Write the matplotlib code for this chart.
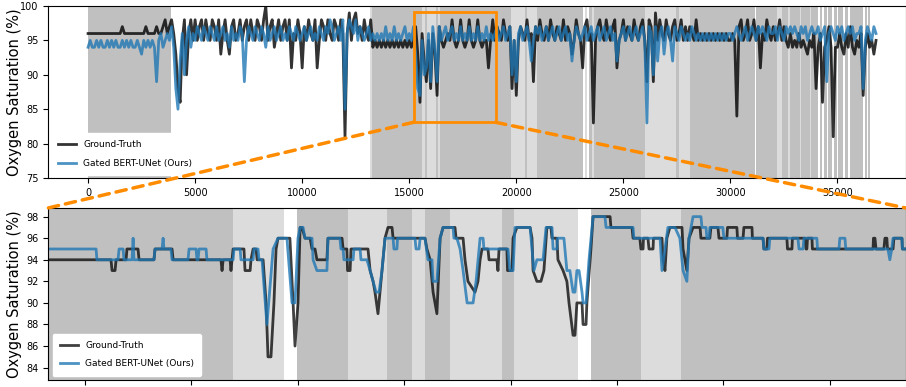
import matplotlib.pyplot as plt
from matplotlib.patches import Rectangle, ConnectionPatch
import numpy as np

# ---- full recording, one reading every 100 samples ----
step = 100
gt_full = [
    96, 96, 96, 96, 96, 96, 96, 96, 96, 96,
    96, 96, 96, 96, 96, 96, 97, 96, 96, 96,
    96, 96, 96, 96, 96, 96, 96, 97, 96, 96,
    96, 96, 97, 96, 96, 97, 98, 96, 97, 98,
    96, 93, 88, 86, 95, 98, 90, 96, 98, 95,
    98, 95, 97, 98, 95, 98, 96, 95, 98, 97,
    95, 98, 93, 96, 98, 95, 93, 97, 98, 95,
    96, 98, 95, 97, 98, 95, 98, 96, 95, 98,
    97, 95, 98, 100, 95, 97, 98, 94, 96, 98,
    95, 97, 98, 95, 98, 91, 96, 95, 98, 96,
    91, 97, 95, 98, 96, 95, 98, 91, 95, 98,
    97, 95, 98, 96, 95, 98, 97, 95, 98, 96,
    81, 96, 99, 95, 98, 99, 96, 97, 95, 98,
    96, 95, 98, 94, 95, 94, 95, 94, 95, 94,
    95, 94, 95, 94, 95, 94, 95, 94, 95, 94,
    95, 94, 95, 97, 93, 86, 96, 92, 89, 95,
    88, 96, 93, 87, 97, 95, 94, 95, 96, 95,
    98, 95, 94, 95, 98, 95, 94, 95, 98, 95,
    94, 95, 98, 95, 94, 95, 95, 91, 95, 98,
    95, 97, 96, 95, 98, 96, 95, 97, 88, 95,
    87, 95, 97, 96, 95, 98, 95, 96, 89, 97,
    95, 98, 96, 95, 97, 95, 98, 96, 95, 97,
    96, 95, 98, 95, 97, 96, 93, 95, 98, 96,
    95, 91, 97, 98, 95, 96, 83, 95, 97, 98,
    96, 95, 98, 96, 95, 97, 98, 91, 95, 96,
    98, 95, 97, 96, 95, 98, 96, 95, 97, 98,
    95, 89, 98, 97, 89, 99, 95, 98, 96, 95,
    98, 96, 95, 97, 98, 95, 96, 98, 95, 97,
    95, 97, 96, 95, 98, 95, 96, 95, 96, 95,
    96, 95, 96, 95, 96, 95, 96, 95, 96, 95,
    95, 96, 95, 84, 97, 98, 95, 96, 98, 95,
    96, 98, 95, 97, 91, 96, 95, 98, 96, 95,
    97, 95, 96, 98, 95, 97, 95, 94, 96, 94,
    95, 94, 96, 94, 95, 94, 93, 95, 94, 96,
    88, 94, 96, 86, 94, 95, 97, 94, 81, 94,
    94, 96, 94, 93, 96, 94, 97, 94, 93, 95,
    94, 96, 87, 94, 96, 94, 95, 93, 95,
]
pred_full = [
    94, 95, 94, 94, 95, 94, 95, 94, 94, 95,
    94, 95, 94, 95, 94, 94, 95, 94, 95, 94,
    95, 94, 94, 95, 94, 93, 95, 94, 95, 94,
    95, 94, 89, 95, 96, 94, 95, 96, 95, 97,
    94, 88, 85, 92, 96, 90, 95, 97, 94, 96,
    95, 97, 96, 95, 97, 96, 95, 97, 96, 95,
    97, 95, 96, 97, 95, 96, 94, 97, 95, 96,
    95, 97, 96, 89, 95, 97, 96, 95, 97, 96,
    95, 97, 96, 94, 97, 95, 96, 97, 95, 96,
    97, 95, 96, 95, 97, 96, 95, 97, 96, 95,
    96, 97, 95, 96, 97, 95, 96, 95, 97, 96,
    95, 97, 96, 98, 97, 95, 96, 97, 95, 98,
    85, 96, 98, 97, 96, 98, 95, 97, 96, 95,
    96, 97, 95, 96, 95, 96, 95, 96, 95, 97,
    95, 96, 95, 97, 95, 96, 95, 96, 97, 95,
    96, 95, 97, 93, 88, 87, 95, 90, 91, 96,
    89, 97, 94, 89, 97, 95, 96, 97, 95, 96,
    97, 95, 96, 95, 97, 95, 96, 95, 97, 95,
    96, 95, 97, 95, 96, 95, 97, 95, 96, 95,
    96, 97, 95, 96, 97, 95, 96, 97, 90, 95,
    89, 96, 97, 95, 96, 97, 95, 92, 95, 97,
    96, 97, 95, 96, 97, 95, 96, 97, 95, 96,
    97, 95, 96, 97, 95, 96, 92, 95, 97, 96,
    95, 96, 97, 95, 96, 97, 95, 96, 97, 95,
    96, 97, 95, 96, 97, 95, 96, 92, 95, 96,
    97, 95, 96, 97, 95, 96, 97, 95, 96, 97,
    95, 83, 97, 96, 90, 97, 92, 96, 97, 93,
    96, 97, 95, 92, 97, 96, 95, 97, 96, 95,
    96, 95, 97, 96, 95, 96, 95, 96, 95, 96,
    95, 96, 95, 96, 95, 96, 95, 96, 95, 96,
    96, 95, 96, 97, 96, 95, 96, 97, 95, 96,
    97, 96, 95, 97, 96, 97, 96, 95, 97, 96,
    96, 97, 95, 97, 96, 95, 97, 96, 97, 96,
    97, 96, 95, 97, 96, 97, 95, 96, 97, 96,
    96, 97, 95, 96, 97, 89, 96, 97, 96, 95,
    97, 96, 97, 95, 96, 97, 96, 97, 95, 96,
    96, 97, 88, 95, 97, 96, 95, 97, 96,
]

# shaded segments on the full view (start, end)
full_dark = [(0, 3877), (13280, 15580), (15720, 15850), (16250, 16320),
             (16450, 19740), (20400, 20500), (20990, 23100), (23400, 23550),
             (23650, 26010), (27450, 27620), (28120, 31130), (31200, 32180),
             (32420, 34110), (34180, 34300), (34370, 34500), (34570, 34765),
             (34830, 34970), (35040, 35280), (35350, 35510), (35580, 36210),
             (36280, 36370), (36420, 36530)]
full_light = [(13180, 13240), (15580, 15720), (15850, 16250), (16320, 16450),
              (19740, 20400), (20500, 20990), (23200, 23300), (23550, 23650),
              (26010, 27450), (27620, 28120), (32180, 32420), (32700, 32760),
              (33250, 33300), (33700, 33750)]

# zoomed window: breakpoints (sample, SpO2)
gt_zoom = [
    (15326, 94), (15622, 94), (15627, 93), (15641, 93), (15646, 94), (15693, 94),
    (15697, 95), (15749, 95), (15754, 94), (15824, 94), (15829, 95), (15909, 95),
    (15914, 94), (16139, 94), (16144, 93), (16149, 94), (16182, 94), (16186, 93),
    (16191, 94), (16196, 95), (16247, 95), (16252, 93), (16276, 93), (16280, 94),
    (16290, 95), (16304, 95), (16309, 94), (16337, 94), (16351, 90), (16360, 85),
    (16374, 85), (16388, 90), (16398, 95), (16407, 96), (16463, 96), (16478, 90),
    (16487, 86), (16501, 90), (16511, 97), (16520, 97), (16534, 96), (16558, 96),
    (16567, 95), (16581, 95), (16590, 94), (16637, 94), (16642, 96), (16708, 96),
    (16713, 95), (16731, 95), (16734, 93), (16746, 93), (16750, 95), (16830, 95),
    (16840, 93), (16854, 92), (16863, 91), (16877, 89), (16896, 93), (16910, 96),
    (16924, 97), (16943, 97), (16948, 96), (17098, 96), (17107, 95), (17122, 94),
    (17136, 91), (17154, 89), (17169, 96), (17183, 97), (17239, 97), (17244, 96),
    (17277, 96), (17286, 94), (17300, 92), (17333, 91), (17347, 92), (17357, 94),
    (17366, 95), (17394, 95), (17399, 94), (17436, 94), (17441, 93), (17446, 95),
    (17483, 95), (17486, 93), (17507, 93), (17512, 96), (17530, 97), (17592, 97),
    (17601, 96), (17606, 93), (17624, 92), (17643, 92), (17657, 93), (17671, 97),
    (17690, 97), (17695, 96), (17718, 96), (17723, 94), (17747, 93), (17765, 92),
    (17775, 90), (17794, 87), (17803, 87), (17812, 90), (17836, 90), (17841, 88),
    (17855, 88), (17859, 90), (17878, 95), (17888, 98), (17968, 98), (17972, 97),
    (18071, 97), (18076, 96), (18108, 96), (18113, 95), (18123, 95), (18125, 96),
    (18146, 96), (18151, 95), (18170, 95), (18172, 96), (18212, 96), (18217, 94),
    (18226, 93), (18235, 96), (18249, 97), (18306, 97), (18311, 95), (18329, 93),
    (18339, 96), (18358, 97), (18391, 97), (18395, 96), (18437, 96), (18442, 97),
    (18475, 97), (18480, 96), (18517, 96), (18520, 97), (18564, 97), (18567, 96),
    (18593, 96), (18597, 97), (18635, 97), (18637, 96), (18687, 96), (18691, 95),
    (18705, 95), (18708, 96), (18799, 96), (18802, 95), (18823, 95), (18825, 96),
    (18884, 96), (18889, 95), (18893, 95), (18896, 96), (18917, 96), (18919, 95),
    (19204, 95), (19206, 96), (19213, 96), (19218, 95), (19255, 95), (19260, 96),
    (19269, 96), (19272, 95), (19298, 95), (19302, 96), (19340, 96), (19342, 95),
    (19359, 95),
]
pred_zoom = [
    (15326, 95), (15552, 95), (15556, 94), (15655, 94), (15660, 95), (15679, 95),
    (15683, 94), (15721, 94), (15726, 96), (15730, 94), (15824, 94), (15829, 95),
    (15862, 95), (15867, 96), (15871, 95), (15904, 95), (15909, 94), (15984, 94),
    (15989, 95), (16022, 95), (16026, 94), (16031, 94), (16036, 95), (16069, 95),
    (16073, 94), (16196, 94), (16200, 95), (16229, 95), (16233, 94), (16290, 94),
    (16294, 95), (16313, 95), (16318, 94), (16332, 94), (16355, 88), (16384, 95),
    (16407, 96), (16449, 96), (16473, 90), (16487, 90), (16501, 96), (16511, 97),
    (16525, 97), (16534, 96), (16567, 96), (16572, 94), (16590, 93), (16637, 93),
    (16642, 96), (16698, 96), (16703, 95), (16713, 95), (16717, 94), (16760, 94),
    (16764, 95), (16793, 95), (16797, 94), (16825, 94), (16840, 93), (16854, 92),
    (16868, 91), (16882, 91), (16896, 93), (16910, 96), (16948, 96), (16952, 95),
    (16966, 95), (16969, 96), (17051, 96), (17056, 95), (17070, 95), (17075, 96),
    (17098, 96), (17112, 94), (17131, 94), (17136, 92), (17154, 92), (17169, 96),
    (17183, 97), (17230, 97), (17234, 96), (17248, 96), (17263, 95), (17277, 93),
    (17296, 90), (17324, 90), (17338, 92), (17357, 96), (17371, 96), (17375, 95),
    (17488, 95), (17497, 93), (17512, 93), (17521, 97), (17592, 97), (17601, 95),
    (17610, 93), (17624, 94), (17653, 94), (17667, 97), (17695, 97), (17700, 95),
    (17718, 95), (17721, 96), (17751, 96), (17765, 93), (17779, 93), (17794, 91),
    (17803, 91), (17812, 93), (17822, 93), (17836, 91), (17841, 90), (17855, 90),
    (17869, 94), (17888, 98), (17944, 98), (17949, 97), (18076, 97), (18080, 96),
    (18203, 96), (18212, 93), (18226, 95), (18240, 97), (18273, 97), (18296, 96),
    (18311, 93), (18329, 92), (18339, 96), (18358, 98), (18395, 98), (18400, 97),
    (18419, 97), (18423, 96), (18433, 96), (18437, 97), (18498, 97), (18503, 96),
    (18687, 96), (18691, 95), (18715, 95), (18719, 96), (18851, 96), (18856, 95),
    (18875, 95), (18879, 96), (18940, 96), (18943, 95), (19044, 95), (19048, 96),
    (19072, 96), (19076, 95), (19274, 95), (19283, 94), (19292, 95), (19298, 96),
    (19340, 96), (19342, 95), (19359, 95),
]
zoom_dark = [(15326, 16196), (16496, 16736), (16919, 17037), (17098, 17215),
             (17460, 17516), (17878, 18113), (18301, 19359)]
zoom_light = [(16196, 16435), (16736, 16919), (17037, 17098), (17215, 17460),
              (17516, 17817), (18113, 18301)]

box_x = (15200, 19030)
box_y = (83.1, 99.2)

dark_grey = '#c0c0c0'
light_grey = '#dcdcdc'
gt_color = 'black'
pred_color = '#1f77b4'
orange = 'darkorange'

fig = plt.figure(figsize=(9.06, 3.87), dpi=100)
ax1 = fig.add_axes([0.053, 0.540, 0.947, 0.4445])
ax2 = fig.add_axes([0.053, 0.018, 0.947, 0.4445])

# top: whole night
for a, b in full_dark:
    ax1.axvspan(a, b, color=dark_grey, lw=0)
for a, b in full_light:
    ax1.axvspan(a, b, color=light_grey, lw=0)
t = np.arange(len(gt_full)) * step
ax1.plot(t, gt_full, color=gt_color, lw=2.0, alpha=0.8, label='Ground-Truth')
ax1.plot(t, pred_full, color=pred_color, lw=2.0, alpha=0.8, label='Gated BERT-UNet (Ours)')
ax1.add_patch(Rectangle((box_x[0], box_y[0]), box_x[1] - box_x[0], box_y[1] - box_y[0],
                        fill=False, edgecolor=orange, lw=2, zorder=5))
ax1.set_xlim(-1870, 38200)
ax1.set_ylim(75, 100)
ax1.set_xticks(range(0, 35001, 5000))
ax1.set_yticks(range(75, 101, 5))
ax1.set_ylabel('Oxygen Saturation (%)', fontsize=10.5)
ax1.yaxis.set_label_coords(-0.030, 0.5)
ax1.tick_params(labelsize=7)
ax1.legend(loc='lower left', fontsize=6.5, framealpha=1, edgecolor='white',
           borderaxespad=0.3, labelspacing=1.1, borderpad=0.8)

# bottom: zoomed window
for a, b in zoom_dark:
    ax2.axvspan(a, b, color=dark_grey, lw=0)
for a, b in zoom_light:
    ax2.axvspan(a, b, color=light_grey, lw=0)
gx, gy = zip(*gt_zoom)
px, py = zip(*pred_zoom)
ax2.plot(gx, gy, color=gt_color, lw=2, alpha=0.75, label='Ground-Truth')
ax2.plot(px, py, color=pred_color, lw=2, alpha=0.8, label='Gated BERT-UNet (Ours)')
ax2.set_xlim(15326, 19359)
ax2.set_ylim(82.85, 98.8)
ax2.set_xticks(range(15500, 19001, 500))
ax2.set_yticks(range(84, 99, 2))
ax2.set_ylabel('Oxygen Saturation (%)', fontsize=10.5)
ax2.yaxis.set_label_coords(-0.030, 0.5)
ax2.tick_params(labelsize=7)
ax2.legend(loc='lower left', fontsize=6.5, framealpha=1, edgecolor='white',
           borderaxespad=0.5, labelspacing=1.0, borderpad=0.8)

# dashed guides from the box to the zoom panel
for xa, xb in [(box_x[0], 0), (box_x[1], 1)]:
    con = ConnectionPatch(xyA=(xa, box_y[0]), coordsA=ax1.transData,
                          xyB=(xb, 1), coordsB=ax2.transAxes,
                          color=orange, lw=2.5, linestyle=(0, (3, 2)))
    fig.add_artist(con)

fig.savefig('out.png', dpi=100)
